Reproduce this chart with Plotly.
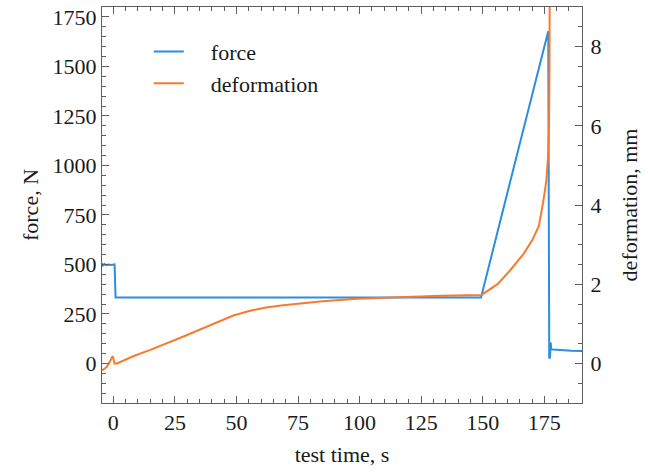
import plotly.graph_objects as go

# ---- data ----
force_time = [-4.6, -4.3, -4.0, -3.5, -3.0, -2.0, -1.0, 0.0, 0.5, 0.7, 0.9, 10, 50, 100, 149.3,
              163.0, 176.6, 177.0, 177.3, 177.6, 177.8, 178.5, 182.0, 186.0, 190.3]
force_values = [488, 500, 497, 502, 496, 499, 497, 500, 500, 420, 333, 333, 333, 333, 333,
                1010, 1677, 25, 30, 105, 72, 70, 66, 64, 62]

def_time = [-4.6, -3.5, -2.7, -1.8, -1.0, -0.3, 0.0, 0.5, 1.5, 3.0, 8.0, 15.0, 22.0, 28.5,
            35.0, 42.0, 48.7, 55.5, 62.0, 69.0, 76.0, 85.0, 99.0, 106.0, 119.0, 133.0, 149.5,
            153.0, 156.0, 161.0, 166.5, 170.0, 172.8, 174.6, 175.8, 176.5, 176.9, 177.1, 177.3]
def_values = [-0.18, -0.13, -0.09, 0.0, 0.08, 0.18, 0.14, 0.0, 0.0, 0.04, 0.18, 0.34, 0.51, 0.68,
              0.85, 1.04, 1.21, 1.33, 1.41, 1.47, 1.52, 1.57, 1.63, 1.65, 1.68, 1.71, 1.73,
              1.88, 2.00, 2.34, 2.76, 3.10, 3.47, 4.10, 4.60, 5.20, 5.94, 7.44, 12.0]

x_ticks = [0, 25, 50, 75, 100, 125, 150, 175]
force_ticks = [0, 250, 500, 750, 1000, 1250, 1500, 1750]
def_ticks = [0, 2, 4, 6, 8]

BLUE = "#2a8ee2"
ORANGE = "#f77b2e"
FONT = "Liberation Serif"
AX = "#5f5f5f"
NB = "\u00a0" * 4

fig = go.Figure()
fig.add_trace(go.Scatter(x=force_time, y=force_values, name=NB + "force", mode="lines",
                         line=dict(color=BLUE, width=2), yaxis="y"))
fig.add_trace(go.Scatter(x=def_time, y=def_values, name=NB + "deformation", mode="lines",
                         line=dict(color=ORANGE, width=2), yaxis="y2"))

common = dict(showgrid=False, zeroline=False, showline=True, linecolor=AX, linewidth=1,
              ticks="inside", ticklen=7, tickcolor=AX, tickwidth=1,
              tickfont=dict(family=FONT, size=22, color="#1a1a1a"))

fig.update_layout(
    width=648, height=472,
    margin=dict(l=102, r=66, t=5, b=69),
    paper_bgcolor="white", plot_bgcolor="white",
    font=dict(family=FONT, size=22, color="#1a1a1a"),
    xaxis=dict(range=[-4.6, 190.3], tickvals=x_ticks, mirror="ticks",
               minor=dict(dtick=5, tick0=0, ticks="inside", ticklen=4, tickcolor=AX),
               title=dict(text="test time, s", font=dict(family=FONT, size=22), standoff=12),
               **common),
    yaxis=dict(range=[-200, 1800], tickvals=force_ticks,
               minor=dict(dtick=50, tick0=0, ticks="inside", ticklen=4, tickcolor=AX),
               title=dict(text="force, N", font=dict(family=FONT, size=22), standoff=7),
               **common),
    yaxis2=dict(range=[-1, 9], tickvals=def_ticks, overlaying="y", side="right", anchor="x",
                ticklabelstandoff=3,
                minor=dict(dtick=0.5, tick0=0, ticks="inside", ticklen=4, tickcolor=AX),
                title=dict(text="deformation, mm", font=dict(family=FONT, size=22), standoff=21),
                **common),
    legend=dict(x=0.0975, y=0.94, xanchor="left", yanchor="top", bgcolor="rgba(0,0,0,0)",
                font=dict(family=FONT, size=22), borderwidth=0),
    showlegend=True,
)

fig.write_html("out.html", config={"displayModeBar": False},
               post_script="document.body.style.margin='0';")
